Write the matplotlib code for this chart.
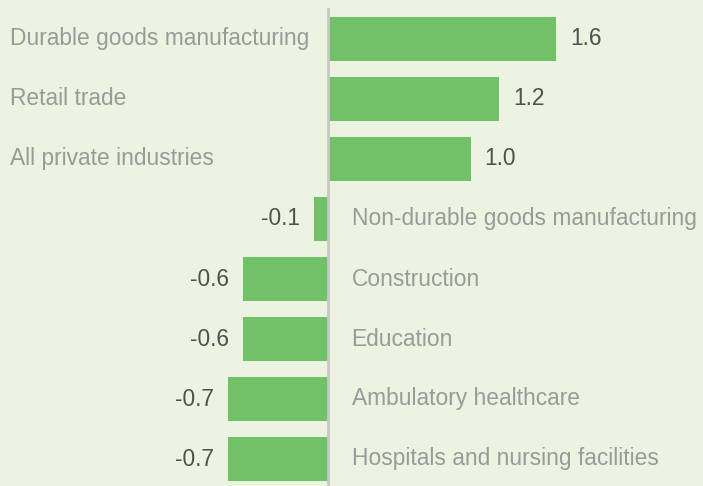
import matplotlib
matplotlib.use("Agg")
import matplotlib.pyplot as plt

# -----------------------------
# Data
# -----------------------------
industries = [
    "Durable goods manufacturing",
    "Retail trade",
    "All private industries",
    "Non-durable goods manufacturing",
    "Construction",
    "Education",
    "Ambulatory healthcare",
    "Hospitals and nursing facilities",
]
values = [1.6, 1.2, 1.0, -0.1, -0.6, -0.6, -0.7, -0.7]
value_labels = ["1.6", "1.2", "1.0", "-0.1", "-0.6", "-0.6", "-0.7", "-0.7"]

BG = "#ecf3e0"
BAR = "#70c167"
CAT_COLOR = "#9a9a9a"
VAL_COLOR = "#505050"
FS = 16.4

plt.rcParams["font.family"] = ["Liberation Sans", "DejaVu Sans"]

fig = plt.figure(figsize=(7.03, 4.86), dpi=100, facecolor=BG)
ax = fig.add_axes([0, 0, 1, 1], facecolor=BG)

pos = list(range(len(values)))
ax.barh(pos, values, height=0.73, color=BAR, zorder=2)

# x: ~142.5 px per unit, zero at 328 px; y: 60 px per row
ax.set_xlim(-328 / 142.5, (703 - 328) / 142.5)
ax.set_ylim((486 - 39) / 60, -39 / 60)
ax.axvline(0, ymin=0, ymax=1 - 9 / 486, color="#c8c8c8", lw=2, zorder=3)

for i, (name, v, lab) in enumerate(zip(industries, values, value_labels)):
    if v >= 0:
        ax.text(10 / 703, i, name, transform=ax.get_yaxis_transform(),
                ha="left", va="center", fontsize=FS, color=CAT_COLOR)
        ax.annotate(lab, (v, i), xytext=(10, 0), textcoords="offset points",
                    ha="left", va="center", fontsize=FS, color=VAL_COLOR)
    else:
        ax.annotate(name, (0, i), xytext=(17, 0), textcoords="offset points",
                    ha="left", va="center", fontsize=FS, color=CAT_COLOR)
        ax.annotate(lab, (v, i), xytext=(-10, 0), textcoords="offset points",
                    ha="right", va="center", fontsize=FS, color=VAL_COLOR)

ax.axis("off")
fig.savefig("out.png", dpi=100, facecolor=BG)
